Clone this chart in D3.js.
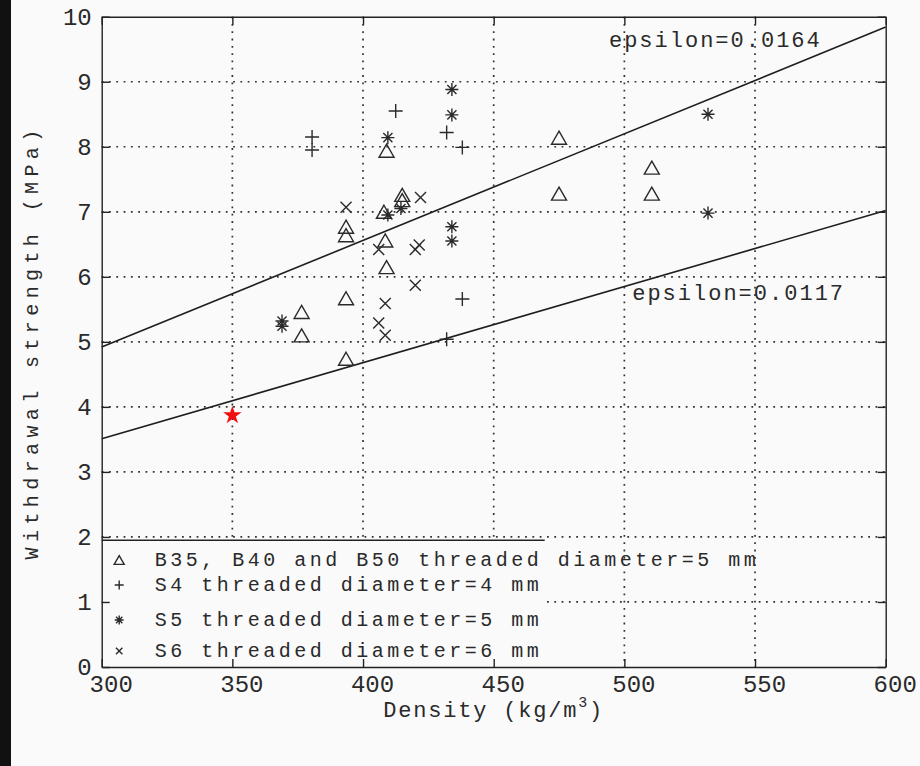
<!DOCTYPE html>
<html>
<head>
<meta charset="utf-8">
<script src="https://cdn.jsdelivr.net/npm/d3@7"></script>
<style>
    body { margin: 0; background: #fafafa; }
    svg { display: block; }
    .axis path, .axis line { stroke: #222; stroke-width: 1.4; }
    .axis .tick text { font-family: "Liberation Mono", monospace; font-size: 24px; fill: #2a2a2a; }
    .grid line { stroke: #333; stroke-width: 1.7; stroke-dasharray: 1.8, 5.5; }
    .lbl { font-family: "Liberation Mono", monospace; fill: #2a2a2a; }
    .mark { fill: none; stroke: #2a2a2a; stroke-width: 1.4; }
</style>
</head>
<body>
<div id="chart"></div>
<script>
// ---- data ----
const xTicks = [300, 350, 400, 450, 500, 550, 600];
const yTicks = [0, 1, 2, 3, 4, 5, 6, 7, 8, 9, 10];

const seriesNames = [
    "B35, B40 and B50 threaded diameter=5 mm",
    "S4 threaded diameter=4 mm",
    "S5 threaded diameter=5 mm",
    "S6 threaded diameter=6 mm"
];

// [density, withdrawal strength]
const bPoints = [
    [409, 7.94], [415, 7.26], [415, 7.18], [408, 7.0], [393.5, 6.77], [393.5, 6.64],
    [408.5, 6.56], [409, 6.15], [393.5, 5.67], [376.5, 5.46], [376.5, 5.10], [393.5, 4.74],
    [475, 8.14], [475, 7.28], [510.5, 7.68], [510.5, 7.28]
];
const s4Points = [
    [412.5, 8.55], [380.5, 8.15], [380.5, 7.95], [432, 8.22], [438, 7.99], [438, 5.66], [432, 5.04]
];
const s5Points = [
    [434, 8.88], [434, 8.49], [409.5, 8.14], [409.5, 6.95], [414.5, 7.05], [434, 6.77],
    [434, 6.55], [369, 5.32], [369, 5.24], [532, 8.50], [532, 6.98]
];
const s6Points = [
    [393.5, 7.07], [422, 7.22], [406, 6.42], [420, 6.42], [421.5, 6.49], [420, 5.87],
    [408.5, 5.59], [406, 5.29], [408.5, 5.10]
];
const starPoint = [350, 3.87];

const epsilons = [0.0164, 0.0117];
const epsilonLabels = ["epsilon=0.0164", "epsilon=0.0117"];
const lineDensity = [300, 600];

// marker shapes (drawn round 0,0)
const shapes = {
    tri: s => `M0,${-s * 0.87}L${s},${s * 0.87}L${-s},${s * 0.87}Z`,
    plus: s => `M${-s},0H${s}M0,${-s}V${s}`,
    star: s => { let d = s * 0.7; return `M${-s},0H${s}M0,${-s}V${s}M${-d},${-d}L${d},${d}M${-d},${d}L${d},${-d}`; },
    cross: s => `M${-s},${-s}L${s},${s}M${-s},${s}L${s},${-s}`
};

class ScatterVis {

    constructor(parentElement) {
        this.parentElement = parentElement;
        this.initVis();
    }

    initVis() {
        let vis = this;

        vis.margin = { top: 16.7, right: 34.3, bottom: 99, left: 101.7 };
        vis.width = 920 - vis.margin.left - vis.margin.right;
        vis.height = 766 - vis.margin.top - vis.margin.bottom;

        vis.root = d3.select(`#${vis.parentElement}`).append("svg")
            .attr("width", 920)
            .attr("height", 766);

        // scanned page edge
        vis.root.append("rect")
            .attr("x", 0).attr("y", 0)
            .attr("width", 11).attr("height", 766)
            .attr("fill", "#111");

        vis.svg = vis.root.append("g")
            .attr("transform", `translate(${vis.margin.left},${vis.margin.top})`);

        vis.x = d3.scaleLinear().domain([300, 600]).range([0, vis.width]);
        vis.y = d3.scaleLinear().domain([0, 10]).range([vis.height, 0]);

        // dotted grid
        let grid = vis.svg.append("g").attr("class", "grid");
        grid.selectAll(".vgrid")
            .data(xTicks.slice(1, -1))
            .enter().append("line")
            .attr("x1", d => vis.x(d)).attr("x2", d => vis.x(d))
            .attr("y1", 0).attr("y2", vis.height);
        grid.selectAll(".hgrid")
            .data(yTicks.slice(1, -1))
            .enter().append("line")
            .attr("x1", 0).attr("x2", vis.width)
            .attr("y1", d => vis.y(d)).attr("y2", d => vis.y(d));

        // epsilon lines: strength = epsilon * density
        vis.svg.selectAll(".eps-line")
            .data(epsilons)
            .enter().append("line")
            .attr("class", "eps-line")
            .attr("x1", vis.x(lineDensity[0]))
            .attr("y1", d => vis.y(d * lineDensity[0]))
            .attr("x2", vis.x(lineDensity[1]))
            .attr("y2", d => vis.y(d * lineDensity[1]))
            .attr("stroke", "#1e1e1e")
            .attr("stroke-width", 1.6);

        vis.svg.append("text")
            .attr("class", "lbl")
            .attr("x", vis.x(494.1)).attr("y", vis.y(9.53))
            .style("font-size", "22px").style("letter-spacing", "2px")
            .text(epsilonLabels[0]);
        vis.svg.append("text")
            .attr("class", "lbl")
            .attr("x", vis.x(503)).attr("y", vis.y(5.64))
            .style("font-size", "22px").style("letter-spacing", "2px")
            .text(epsilonLabels[1]);

        // markers
        const groups = [
            { pts: bPoints, shape: shapes.tri(7.5) },
            { pts: s4Points, shape: shapes.plus(7) },
            { pts: s5Points, shape: shapes.star(6.5) },
            { pts: s6Points, shape: shapes.cross(5.5) }
        ];
        groups.forEach(g => {
            vis.svg.append("g").selectAll("path")
                .data(g.pts)
                .enter().append("path")
                .attr("class", "mark")
                .attr("d", g.shape)
                .attr("transform", d => `translate(${vis.x(d[0])},${vis.y(d[1])})`);
        });

        vis.svg.append("path")
            .attr("d", d3.symbol().type(d3.symbolStar).size(105)())
            .attr("transform", `translate(${vis.x(starPoint[0])},${vis.y(starPoint[1])})`)
            .attr("fill", "#f01010");

        // legend box (covers grid)
        let legTop = 523.5, legRight = 443;
        let legend = vis.svg.append("g").attr("class", "legend");
        legend.append("rect")
            .attr("x", 0).attr("y", legTop)
            .attr("width", legRight).attr("height", vis.height - legTop)
            .attr("fill", "#fafafa");
        legend.append("line")
            .attr("x1", 0).attr("x2", legRight)
            .attr("y1", legTop).attr("y2", legTop)
            .attr("stroke", "#222").attr("stroke-width", 1.4);

        const legRows = [543.3, 568.3, 603.3, 634.3];
        const legShapes = [shapes.tri(5), shapes.plus(4.5), shapes.star(4.5), shapes.cross(3.2)];
        seriesNames.forEach((name, i) => {
            legend.append("path")
                .attr("class", "mark")
                .attr("d", legShapes[i])
                .attr("transform", `translate(17.5,${legRows[i]})`);
            legend.append("text")
                .attr("class", "lbl")
                .attr("x", 53).attr("y", legRows[i] + 6.5)
                .style("font-size", "20px").style("letter-spacing", "3.5px")
                .text(name);
        });

        // axes with inward ticks
        let xAxis = d3.axisBottom(vis.x).tickValues(xTicks).tickSize(-8).tickSizeOuter(0).tickPadding(8);
        let yAxis = d3.axisLeft(vis.y).tickValues(yTicks).tickSize(-8).tickSizeOuter(0).tickPadding(10);

        vis.svg.append("g")
            .attr("class", "axis x-axis")
            .attr("transform", `translate(0,${vis.height})`)
            .call(xAxis)
            .selectAll("text").attr("dx", 9);
        vis.svg.append("g")
            .attr("class", "axis y-axis")
            .call(yAxis);
        vis.svg.append("g")
            .attr("class", "axis")
            .call(d3.axisTop(vis.x).tickValues(xTicks).tickSize(-8).tickSizeOuter(0).tickFormat(""));
        vis.svg.append("g")
            .attr("class", "axis")
            .attr("transform", `translate(${vis.width},0)`)
            .call(d3.axisRight(vis.y).tickValues(yTicks).tickSize(-8).tickSizeOuter(0).tickFormat(""));

        // axis titles, centred on the plot like the original
        let xt = vis.root.append("text")
            .attr("class", "lbl")
            .attr("x", vis.margin.left + vis.width / 2).attr("y", 717)
            .attr("text-anchor", "middle")
            .style("font-size", "22px").style("letter-spacing", "1.8px");
        xt.append("tspan").text("Density (kg/m");
        xt.append("tspan").attr("dy", -10).style("font-size", "15px").text("3");
        xt.append("tspan").attr("dy", 10).text(")");

        vis.root.append("text")
            .attr("class", "lbl")
            .attr("transform", `translate(38,${vis.margin.top + vis.height / 2}) rotate(-90)`)
            .attr("text-anchor", "middle")
            .style("font-size", "20px").style("letter-spacing", "5.4px")
            .text("Withdrawal strength (MPa)");
    }
}

new ScatterVis("chart");
</script>
</body>
</html>
